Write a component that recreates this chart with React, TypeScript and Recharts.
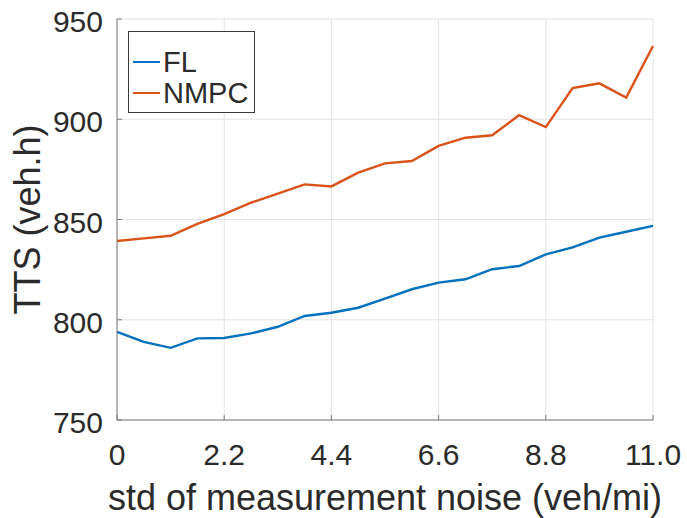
import React from 'react';
import { LineChart, Line, XAxis, YAxis, CartesianGrid, Legend } from 'recharts';

const noiseStd = [0, 0.55, 1.1, 1.65, 2.2, 2.75, 3.3, 3.85, 4.4, 4.95, 5.5, 6.05, 6.6, 7.15, 7.7, 8.25, 8.8, 9.35, 9.9, 10.45, 11];
const flTTS = [794, 789, 786, 790.7, 790.9, 793.2, 796.5, 801.9, 803.5, 806, 810.5, 815.2, 818.5, 820.2, 825.2, 826.8, 832.6, 836.1, 841, 843.9, 846.8];
const nmpcTTS = [839.3, 840.6, 841.9, 847.8, 852.7, 858.4, 862.9, 867.5, 866.5, 873.4, 878, 879.2, 886.7, 890.8, 892, 902, 896.1, 915.6, 917.9, 910.8, 936.5];
const xTicks = [0, 2.2, 4.4, 6.6, 8.8, 11];
const yTicks = [750, 800, 850, 900, 950];
const seriesNames = ['FL', 'NMPC'];
const seriesColors = ['#0072BD', '#D95319'];
const xTitle = 'std of measurement noise (veh/mi)';
const yTitle = 'TTS (veh.h)';

const data = noiseStd.map((x, i) => ({ x, FL: flTTS[i], NMPC: nmpcTTS[i] }));

const FONT = '"Liberation Sans", Arial, Helvetica, sans-serif';
const TEXT = '#2b2b2b';
const AXIS = '#7a7a7a';
const GRID = '#e4e4e4';

const fmtX = (v: number) => (v === 0 ? '0' : v.toFixed(1));

const BottomTick = (props: any) => {
  const { x, y, payload } = props;
  return (
    <g>
      <line x1={x} x2={x} y1={y} y2={y - 5} stroke={AXIS} strokeWidth={1} />
      <text x={x} y={y + 45} textAnchor="middle" fontSize={30} fill={TEXT} fontFamily={FONT}>
        {fmtX(payload.value)}
      </text>
    </g>
  );
};

const TopTick = (props: any) => {
  const { x, y } = props;
  return <line x1={x} x2={x} y1={y} y2={y + 5} stroke={AXIS} strokeWidth={1} />;
};

const LeftTick = (props: any) => {
  const { x, y, payload } = props;
  return (
    <g>
      <line x1={x} x2={x + 5} y1={y} y2={y} stroke={AXIS} strokeWidth={1} />
      <text x={x - 14} y={y + 13} textAnchor="end" fontSize={30} fill={TEXT} fontFamily={FONT}>
        {payload.value}
      </text>
    </g>
  );
};

const RightTick = (props: any) => {
  const { x, y } = props;
  return <line x1={x} x2={x - 5} y1={y} y2={y} stroke={AXIS} strokeWidth={1} />;
};

const XTitle = (props: any) => {
  const vb = props.viewBox;
  return (
    <text x={vb.x + vb.width / 2} y={vb.y + 90} textAnchor="middle" fontSize={36} fill={TEXT} fontFamily={FONT}>
      {xTitle}
    </text>
  );
};

const YTitle = (props: any) => {
  const vb = props.viewBox;
  const cx = vb.x + 40;
  const cy = vb.y + vb.height / 2;
  return (
    <text
      x={cx}
      y={cy}
      transform={`rotate(-90 ${cx} ${cy})`}
      textAnchor="middle"
      fontSize={36}
      fill={TEXT}
      fontFamily={FONT}
    >
      {yTitle}
    </text>
  );
};

const LegendBox = (props: any) => {
  const payload = props.payload || [];
  return (
    <div
      style={{
        boxSizing: 'border-box',
        width: 127,
        height: 82,
        border: '1px solid #3a3a3a',
        background: '#fff',
        paddingTop: 15,
        paddingLeft: 4,
        fontFamily: FONT,
        fontSize: 29,
        color: TEXT,
      }}
    >
      {payload.map((p: any) => (
        <div key={p.value} style={{ display: 'flex', alignItems: 'center', height: 30.5, lineHeight: '30.5px' }}>
          <div style={{ width: 27, height: 2.4, background: p.color, marginRight: 3 }} />
          <span>{p.value}</span>
        </div>
      ))}
    </div>
  );
};

export default function App() {
  return (
    <div style={{ position: 'absolute', left: 0, top: 0, background: '#fff' }}>
      <LineChart width={687} height={518} data={data} margin={{ top: 19, right: 34, left: 0, bottom: 0 }}>
        <CartesianGrid xAxisId="main" yAxisId="main" stroke={GRID} strokeWidth={1} />
        <XAxis
          xAxisId="main"
          dataKey="x"
          type="number"
          domain={[0, 11]}
          ticks={xTicks}
          height={98}
          tickSize={0}
          tickMargin={0}
          tickLine={false}
          axisLine={{ stroke: AXIS }}
          tick={<BottomTick />}
          interval={0}
          label={<XTitle />}
        />
        <XAxis
          xAxisId="top"
          orientation="top"
          dataKey="x"
          type="number"
          domain={[0, 11]}
          ticks={xTicks}
          height={0}
          tickSize={0}
          tickMargin={0}
          tickLine={false}
          axisLine={{ stroke: AXIS }}
          tick={<TopTick />}
          interval={0}
        />
        <YAxis
          yAxisId="main"
          type="number"
          domain={[750, 950]}
          ticks={yTicks}
          width={117}
          tickSize={0}
          tickMargin={0}
          tickLine={false}
          axisLine={{ stroke: AXIS }}
          tick={<LeftTick />}
          interval={0}
          label={<YTitle />}
        />
        <YAxis
          yAxisId="right"
          orientation="right"
          type="number"
          domain={[750, 950]}
          ticks={yTicks}
          width={0}
          tickSize={0}
          tickMargin={0}
          tickLine={false}
          axisLine={{ stroke: AXIS }}
          tick={<RightTick />}
          interval={0}
        />
        <Legend
          layout="vertical"
          align="center"
          verticalAlign="middle"
          content={<LegendBox />}
          wrapperStyle={{ left: 128, top: 31, width: 'auto', height: 'auto' }}
        />
        <Line
          xAxisId="main"
          yAxisId="main"
          type="linear"
          dataKey="FL"
          name={seriesNames[0]}
          stroke={seriesColors[0]}
          strokeWidth={2.4}
          dot={false}
          isAnimationActive={false}
        />
        <Line
          xAxisId="main"
          yAxisId="main"
          type="linear"
          dataKey="NMPC"
          name={seriesNames[1]}
          stroke={seriesColors[1]}
          strokeWidth={2.4}
          dot={false}
          isAnimationActive={false}
        />
      </LineChart>
    </div>
  );
}
